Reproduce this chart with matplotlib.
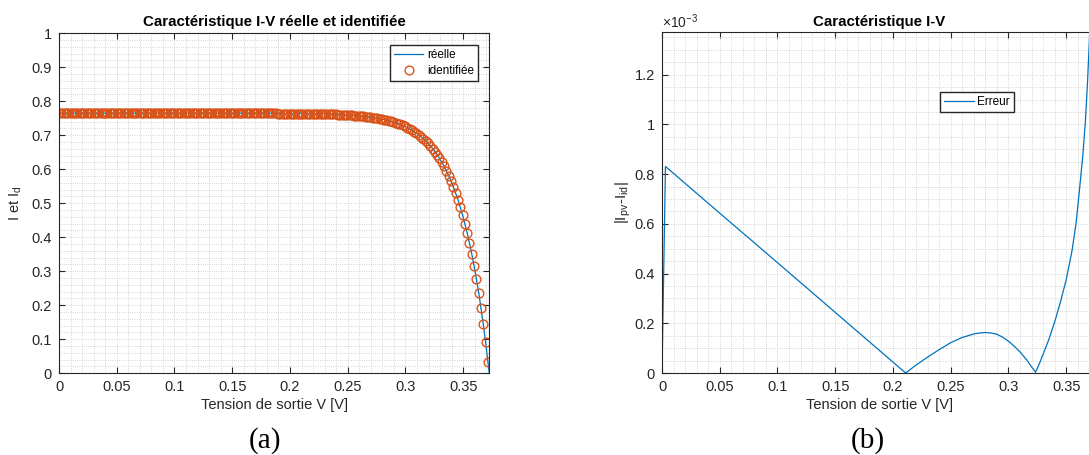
import matplotlib.pyplot as plt
import numpy as np
from matplotlib.ticker import FormatStrFormatter, MultipleLocator

plt.rcParams["font.family"] = ["Liberation Sans", "DejaVu Sans"]
plt.rcParams["mathtext.fontset"] = "custom"
plt.rcParams["mathtext.rm"] = "Liberation Sans"
plt.rcParams["mathtext.it"] = "Liberation Sans"

BLUE = "#0072BD"
ORANGE = "#D95319"
AXC = "#262626"

# --- data -----------------------------------------------------------------
# (a) identified I-V points (uniform voltage sweep), current in A
I_ID = (
    [0.765] * 95
    + [0.764] * 16
    + [0.763] * 6
    + [0.762] * 4
    + [0.761] * 3
    + [0.760, 0.760, 0.759, 0.759, 0.758, 0.758, 0.757, 0.757]
    + [0.756, 0.755, 0.754, 0.753, 0.752, 0.751, 0.750, 0.749, 0.748, 0.746,
       0.744, 0.743, 0.741, 0.739, 0.737, 0.734, 0.732, 0.729, 0.726, 0.722,
       0.719, 0.715, 0.711, 0.706, 0.701, 0.696, 0.690, 0.683, 0.676, 0.669,
       0.661, 0.652, 0.642, 0.632, 0.621, 0.609, 0.595, 0.581, 0.566, 0.549,
       0.530, 0.511, 0.489, 0.466, 0.440, 0.413, 0.383, 0.351, 0.316, 0.278,
       0.237, 0.192, 0.144, 0.091, 0.034]
)
V_LAST = 0.3714  # last identified point
V_OC = 0.3726    # measured curve reaches I = 0 here

# (b) absolute error |Ipv - Iid|, in units of 1e-3 A
ERR_V = [0.000, 0.003, 0.050, 0.100, 0.150, 0.200, 0.211, 0.220, 0.230, 0.240,
         0.250, 0.260, 0.270, 0.275, 0.280, 0.285, 0.290, 0.295, 0.300, 0.305,
         0.310, 0.316, 0.320, 0.3235, 0.327, 0.330, 0.335, 0.3406, 0.345, 0.350,
         0.355, 0.3585, 0.3616, 0.3645, 0.3666, 0.3685, 0.370, 0.3726]
ERR = [0.000, 0.831, 0.643, 0.444, 0.244, 0.044, 0.000, 0.032, 0.064, 0.094,
       0.122, 0.143, 0.157, 0.161, 0.163, 0.161, 0.156, 0.144, 0.128, 0.108,
       0.085, 0.052, 0.025, 0.003, 0.040, 0.075, 0.135, 0.214, 0.285, 0.375,
       0.490, 0.600, 0.740, 0.880, 1.010, 1.170, 1.330, 1.650]

V_ID = np.linspace(0.0, V_LAST, len(I_ID))
V_REEL = list(V_ID) + [V_OC]
I_REEL = I_ID + [0.0]

FS = 10.5
LEG_FS = 8.5


def style_axes(ax, xmax, ymax, ystep, yminor):
    ax.set_xlim(0, xmax)
    ax.set_ylim(0, ymax)
    ax.xaxis.set_major_locator(MultipleLocator(0.05))
    ax.xaxis.set_minor_locator(MultipleLocator(0.01))
    ax.yaxis.set_major_locator(MultipleLocator(ystep))
    ax.yaxis.set_minor_locator(MultipleLocator(yminor))
    ax.xaxis.set_major_formatter(FormatStrFormatter("%g"))
    ax.yaxis.set_major_formatter(FormatStrFormatter("%g"))
    ax.grid(which="both", linestyle=":", color="#c8c8c8", linewidth=0.6)
    ax.set_axisbelow(True)
    ax.tick_params(which="major", direction="in", length=4, width=0.8,
                   top=True, right=True, color=AXC, labelcolor=AXC,
                   labelsize=FS, pad=5)
    ax.tick_params(which="minor", length=0)
    for sp in ax.spines.values():
        sp.set_color(AXC)
        sp.set_linewidth(0.8)
    ax.set_xlabel("Tension de sortie V [V]", fontsize=FS, color=AXC, labelpad=3)


fig = plt.figure(figsize=(10.89, 4.55), dpi=100)
ax1 = fig.add_axes([0.0542, 0.1796, 0.3951, 0.7473])
# right panel is cropped by the figure edge, like the original export
ax2 = fig.add_axes([0.6079, 0.1802, 0.3995, 0.7484])

# (a) measured vs identified I-V curve
ax1.plot(V_REEL, I_REEL, color=BLUE, linewidth=0.9, label="réelle")
ax1.plot(V_ID, I_ID, linestyle="none", marker="o", markersize=6.3,
         markerfacecolor="none", markeredgecolor=ORANGE, markeredgewidth=1.0,
         label="identifiée")
style_axes(ax1, V_OC, 1.0, 0.1, 0.02)
ax1.set_ylabel("I et I$_{d}$", fontsize=FS, color=AXC)
ax1.yaxis.set_label_coords(-0.082, 0.5)
ax1.set_title("Caractéristique I-V réelle et identifiée", fontsize=10.8,
              fontweight="bold", pad=5)
ax1.legend(loc="upper right", bbox_to_anchor=(0.9737, 0.9656), borderaxespad=0,
           fancybox=False, edgecolor=AXC, framealpha=1, fontsize=LEG_FS,
           handlelength=2.5, handletextpad=0.3, labelspacing=0.35,
           borderpad=0.35)

# (b) absolute error
ax2.plot(ERR_V, ERR, color=BLUE, linewidth=0.9, label="Erreur")
style_axes(ax2, V_OC * 0.3995 / 0.3951, 1.37, 0.2, 0.05)
ax2.set_ylabel("|I$_{pv}$-I$_{id}$|", fontsize=11, color=AXC)
ax2.yaxis.set_label_coords(-0.066, 0.5)
ax2.set_title("Caractéristique I-V", fontsize=10.8, fontweight="bold", pad=5)
ax2.text(0.0, 1.004, r"$\times10^{-3}$", transform=ax2.transAxes,
         ha="left", va="bottom", fontsize=10, color=AXC)
ax2.legend(loc="upper left", bbox_to_anchor=(0.639, 0.8253), borderaxespad=0,
           fancybox=False, edgecolor=AXC, framealpha=1, fontsize=LEG_FS,
           handlelength=2.5, handletextpad=0.3, borderpad=0.35)

for x, lab in [(265 / 1089, "(a)"), (868 / 1089, "(b)")]:
    fig.text(x, 1 - 441 / 455, lab, ha="center", va="center",
             family=["Liberation Serif", "DejaVu Serif"], fontsize=21)

fig.savefig("out.png", dpi=100)
